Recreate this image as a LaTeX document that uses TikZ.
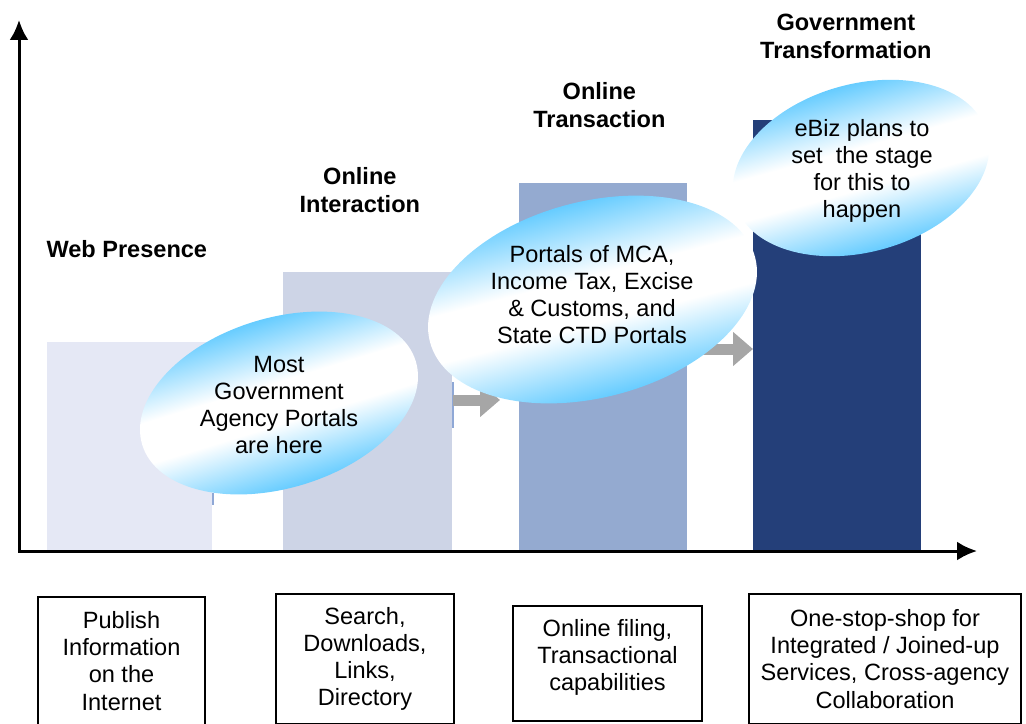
\documentclass[tikz,border=0pt]{standalone}
\usepackage{fontspec}
\setmainfont{Liberation Sans}
\usepackage{tikz}
\usetikzlibrary{arrows.meta,calc,positioning}
\definecolor{presencefill}{RGB}{229,232,245}
\definecolor{interactionfill}{RGB}{205,212,230}
\definecolor{transactionfill}{RGB}{148,170,208}
\definecolor{transformfill}{RGB}{36,63,121}
\definecolor{skyblue}{RGB}{102,204,255}
\definecolor{flowgray}{RGB}{166,166,166}
\definecolor{edgeblue}{RGB}{143,168,214}
\pgfdeclareverticalshading{bubbleshade}{100bp}{color(0bp)=(skyblue); color(25bp)=(skyblue); color(44bp)=(white); color(56bp)=(white); color(75bp)=(skyblue); color(100bp)=(skyblue)}
\tikzstyle{bar} = [rectangle, inner sep=0pt, anchor=south west]
\tikzstyle{heading} = [align=center, inner sep=0pt, font=\fontsize{13.4}{15.9}\selectfont\bfseries]
\tikzstyle{card} = [rectangle, draw, line width=1pt, align=center, font=\fontsize{13.4}{15.4}\selectfont]
\tikzstyle{bubble} = [shading=bubbleshade]
\tikzstyle{bubbletext} = [align=center, inner sep=0pt, font=\fontsize{13.4}{15.3}\selectfont]
\tikzstyle{flow} = [flowgray, line width=0.22cm, -{Triangle[length=0.4cm,width=0.66cm]}]
\tikzstyle{axis} = [line width=0.06cm, {Latex[length=0.4cm,width=0.38cm]}-{Latex[length=0.4cm,width=0.38cm]}]
\tikzstyle{edge} = [edgeblue, line width=0.04cm]

\begin{document}
\begin{tikzpicture}[x=0.02cm,y=-0.02cm]
      \clip (0,0) rectangle (1026,723);
      % stages
      \node[bar, fill=presencefill, minimum width=3.3cm, minimum height=4.16cm] (WebPresence) at (47,550) {};
      \node[bar, fill=interactionfill, minimum width=3.38cm, minimum height=5.56cm] (OnlineInteraction) at (283,550) {};
      \node[bar, fill=transactionfill, minimum width=3.36cm, minimum height=7.34cm] (OnlineTransaction) at (519,550) {};
      \node[bar, fill=transformfill, minimum width=3.36cm, minimum height=8.6cm] (GovTransformation) at (753,550) {};
      \draw[edge] (WebPresence.east |- 0,493) -- (WebPresence.east |- 0,505);
      \draw[edge] (OnlineInteraction.east |- 0,382) -- (OnlineInteraction.east |- 0,428);
      %
      \node[heading, above=1.66cm of WebPresence, xshift=-0.06cm] (WebPresenceTitle) {Web Presence};
      \node[heading, above=1.17cm of OnlineInteraction, xshift=-0.16cm] (OnlineInteractionTitle) {Online\\Interaction};
      \node[heading, above=1.08cm of OnlineTransaction, xshift=-0.08cm] (OnlineTransactionTitle) {Online\\Transaction};
      \node[heading, above=1.21cm of GovTransformation, xshift=0.17cm] (GovTransformationTitle) {Government\\Transformation};
      %
      \draw[flow, shorten >=0.38cm] (OnlineInteraction.east |- 0,400) -- (OnlineTransaction.west |- 0,400);
      \draw[flow] (OnlineTransaction.east |- 0,349) -- (GovTransformation.west |- 0,349);
      % axes
      \coordinate (Origin) at (19,551);
      \coordinate (YEnd) at (19,20);
      \coordinate (XEnd) at (977,551);
      \draw[axis] (YEnd) -- (Origin) -- (XEnd);
      % bubbles
      \begin{scope}[transform canvas={rotate around={17:(279,403)}}]
        \path[bubble] (279,403) ellipse [x radius=143, y radius=85];
      \end{scope}
      \node[bubbletext] (MostPortals) at (279,405) {Most\\Government\\Agency Portals\\are here};
      \begin{scope}[transform canvas={rotate around={15.5:(861,168)}}]
        \path[bubble] (861,168) ellipse [x radius=131, y radius=84];
      \end{scope}
      \node[bubbletext] (EBizPlans) at (862,171) {eBiz plans to\\set\ \ the stage\\for this to\\happen};
      \begin{scope}[transform canvas={rotate around={14.6:(592.5,299.5)}}]
        \path[bubble] (592.5,299.5) ellipse [x radius=168, y radius=98];
      \end{scope}
      \node[bubbletext] (MCAPortals) at (592,294.5) {Portals of MCA,\\Income Tax, Excise\\\& Customs, and\\State CTD Portals};
      % what each stage offers
      \node[card, minimum width=3.34cm, minimum height=2.56cm] (PublishBox) at (121.5,661) {Publish\\Information\\on the\\Internet};
      \node[card, minimum width=3.56cm, minimum height=2.6cm] (SearchBox) at (365,659) {Search,\\Downloads,\\Links,\\Directory};
      \node[card, minimum width=3.78cm, minimum height=2.3cm, text depth=10pt] (FilingBox) at (607.5,663.5) {Online filing,\\Transactional\\capabilities};
      \node[card, minimum width=5.44cm, minimum height=2.6cm] (OneStopBox) at (885,659) {One-stop-shop for\\Integrated / Joined-up\\Services, Cross-agency\\Collaboration};
    \end{tikzpicture}
\end{document}
